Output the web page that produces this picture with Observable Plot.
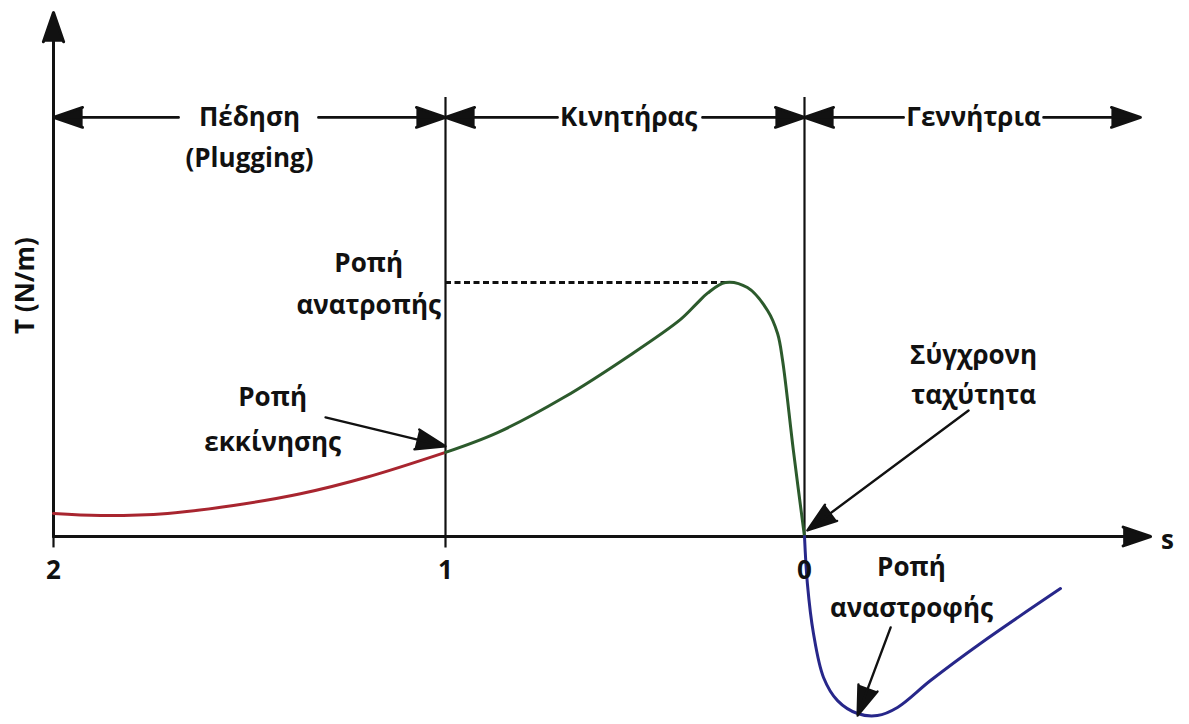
<!DOCTYPE html>
<html>
<head>
<meta charset="utf-8">
<script src="https://cdn.jsdelivr.net/npm/d3@7"></script>
<script src="https://cdn.jsdelivr.net/npm/@observablehq/plot@0.6"></script>
<style>
  body { margin: 0; background: #fff; }
  svg { display: block; }
</style>
</head>
<body>
<div id="chart"></div>
<script>
// Braking (plugging) region: slip s from 2 to 1
const brakingS = [2.0, 1.88, 1.709, 1.541, 1.37, 1.199, 1.0];
const brakingT = [9.1, 8.3, 9.1, 12.2, 16.8, 23.4, 33.1];
// Motor region: slip s from 1 to 0
const motorS = [1.0, 0.855, 0.671, 0.485, 0.346, 0.301, 0.27, 0.22, 0.159, 0.103, 0.075, 0.061, 0.031, 0.0];
const motorT = [33.1, 40.9, 54.7, 71.5, 85.4, 91.6, 95.8, 100, 98, 89, 79.9, 69.3, 33.9, 0];
// Generator region: negative slip
const genS = [0.0, -0.008, -0.025, -0.053, -0.092, -0.148, -0.203, -0.259, -0.351, -0.49, -0.713];
const genT = [0, -18.5, -38.2, -55.5, -64.6, -69.7, -70.5, -67.3, -56.7, -42.1, -20.5];

// Tick labels on the slip axis
const tickS = [2, 1, 0];
const tickLabels = ["2", "1", "0"];

// Region names (top band)
const regionNames = ["Πέδηση", "Κινητήρας", "Γεννήτρια"];
const regionCenters = [1.5, 0.49, -0.471];
const regionLeft = [1.681, 0.688, -0.276];   // text left edge -> arrow towards region start
const regionRight = [1.324, 0.284, -0.666];  // text right edge -> arrow towards region end
const regionStart = [2, 1, 0];
const regionEnd = [1, 0, -0.936];

// Annotations (two lines each)
const annotLines = ["Ροπή", "ανατροπής", "Ροπή", "εκκίνησης", "Σύγχρονη", "ταχύτητα", "Ροπή", "αναστροφής"];
const annotS = [1.196, 1.196, 1.441, 1.441, -0.471, -0.471, -0.298, -0.298];
const annotT = [107.5, 91, 54.7, 37, 71.3, 55.5, -12.2, -28.3];

// Annotation pointer arrows
const ptrFromS = [1.306, -0.457, -0.24];
const ptrFromT = [46.9, 49.6, -35.8];
const ptrToS = [1.0, -0.008, -0.148];
const ptrToT = [35.5, 2.4, -70.5];

// Breakdown torque reference
const breakdownT = 100;
const breakdownS = 0.206;

const zip = (xs, ys) => xs.map((s, i) => ({s, T: ys[i]}));
const braking = zip(brakingS, brakingT);
const motor = zip(motorS, motorT);
const gen = zip(genS, genT);
const ticks = tickS.map((s, i) => ({s, label: tickLabels[i]}));
const annots = annotLines.map((t, i) => ({t, s: annotS[i], T: annotT[i]}));
const regions = regionNames.map((n, i) => ({n, c: regionCenters[i], l: regionLeft[i], r: regionRight[i], a: regionStart[i], b: regionEnd[i]}));
const ptrs = ptrFromS.map((s, i) => ({s1: s, T1: ptrFromT[i], s2: ptrToS[i], T2: ptrToT[i]}));

const font = "'Open Sans', 'Noto Sans', sans-serif";
const fs = 26;
const bandT = 165;
const vTop = 172.8;
const headAngle = 38;

const chart = Plot.plot({
  width: 1189,
  height: 724,
  margin: 0,
  style: {fontFamily: font, background: "#fff", overflow: "visible"},
  x: {type: "linear", domain: [2, 1, 0, -1], range: [53, 445, 804, 1163], axis: null},
  y: {type: "linear", domain: [0, 100], range: [536, 282], axis: null},
  marks: [
    // vertical separators
    Plot.ruleX([1], {y1: -4.5, y2: vTop, stroke: "#111", strokeWidth: 2.2}),
    Plot.ruleX([0], {y1: 0, y2: vTop, stroke: "#111", strokeWidth: 2.2}),
    Plot.ruleX([2], {y1: -4.5, y2: 0, stroke: "#111", strokeWidth: 2.2}),
    // axes with arrowheads
    Plot.arrow([{a: 2, b: 0, c: 2, d: 206.3}], {x1: "a", y1: "b", x2: "c", y2: "d", stroke: "#111", fill: "#111", strokeWidth: 3, headLength: 15.5, headAngle}),
    Plot.arrow([{a: 2, b: 0, c: -0.964, d: 0}], {x1: "a", y1: "b", x2: "c", y2: "d", stroke: "#111", fill: "#111", strokeWidth: 3, headLength: 14.5, headAngle}),
    // dashed breakdown line
    Plot.ruleY([breakdownT], {x1: 1, x2: breakdownS, stroke: "#111", strokeWidth: 3, strokeDasharray: "6,3.5"}),
    // region band arrows
    Plot.arrow(regions, {x1: "l", x2: "a", y1: bandT, y2: bandT, stroke: "#111", fill: "#111", strokeWidth: 2.8, headLength: 16.5, headAngle}),
    Plot.arrow(regions, {x1: "r", x2: "b", y1: bandT, y2: bandT, stroke: "#111", fill: "#111", strokeWidth: 2.8, headLength: 16.5, headAngle}),
    Plot.text(regions, {x: "c", y: bandT, text: "n", fontSize: fs, fontWeight: 700, fill: "#111", fontFamily: font}),
    Plot.text(["(Plugging)"], {x: 1.5, y: 148.8, text: d => d, fontSize: fs, fontWeight: 700, fill: "#111", fontFamily: font}),
    // torque curves
    Plot.line(braking, {x: "s", y: "T", stroke: "#a8252f", strokeWidth: 3, curve: "catmull-rom"}),
    Plot.line(motor, {x: "s", y: "T", stroke: "#2c5a2c", strokeWidth: 3, curve: "catmull-rom"}),
    Plot.line(gen, {x: "s", y: "T", stroke: "#27278a", strokeWidth: 3, curve: "catmull-rom"}),
    // annotation pointers
    Plot.arrow(ptrs, {x1: "s1", y1: "T1", x2: "s2", y2: "T2", stroke: "#111", fill: "#111", strokeWidth: 2.4, headLength: 19.5, headAngle}),
    // annotation text
    Plot.text(annots, {x: "s", y: "T", text: "t", fontSize: fs, fontWeight: 700, fill: "#111", fontFamily: font}),
    // tick labels
    Plot.text(ticks, {x: "s", y: -13.4, text: "label", fontSize: fs, fontWeight: 700, fill: "#111", fontFamily: font}),
    // axis titles
    Plot.text(["s"], {x: -1.011, y: -1.5, text: d => d, fontSize: fs, fontWeight: 700, fill: "#111", fontFamily: font}),
    Plot.text(["T (N/m)"], {x: 2.07, y: 98.8, text: d => d, rotate: -90, fontSize: fs, fontWeight: 700, fill: "#111", fontFamily: font})
  ]
});
document.getElementById("chart").appendChild(chart);
</script>
</body>
</html>
